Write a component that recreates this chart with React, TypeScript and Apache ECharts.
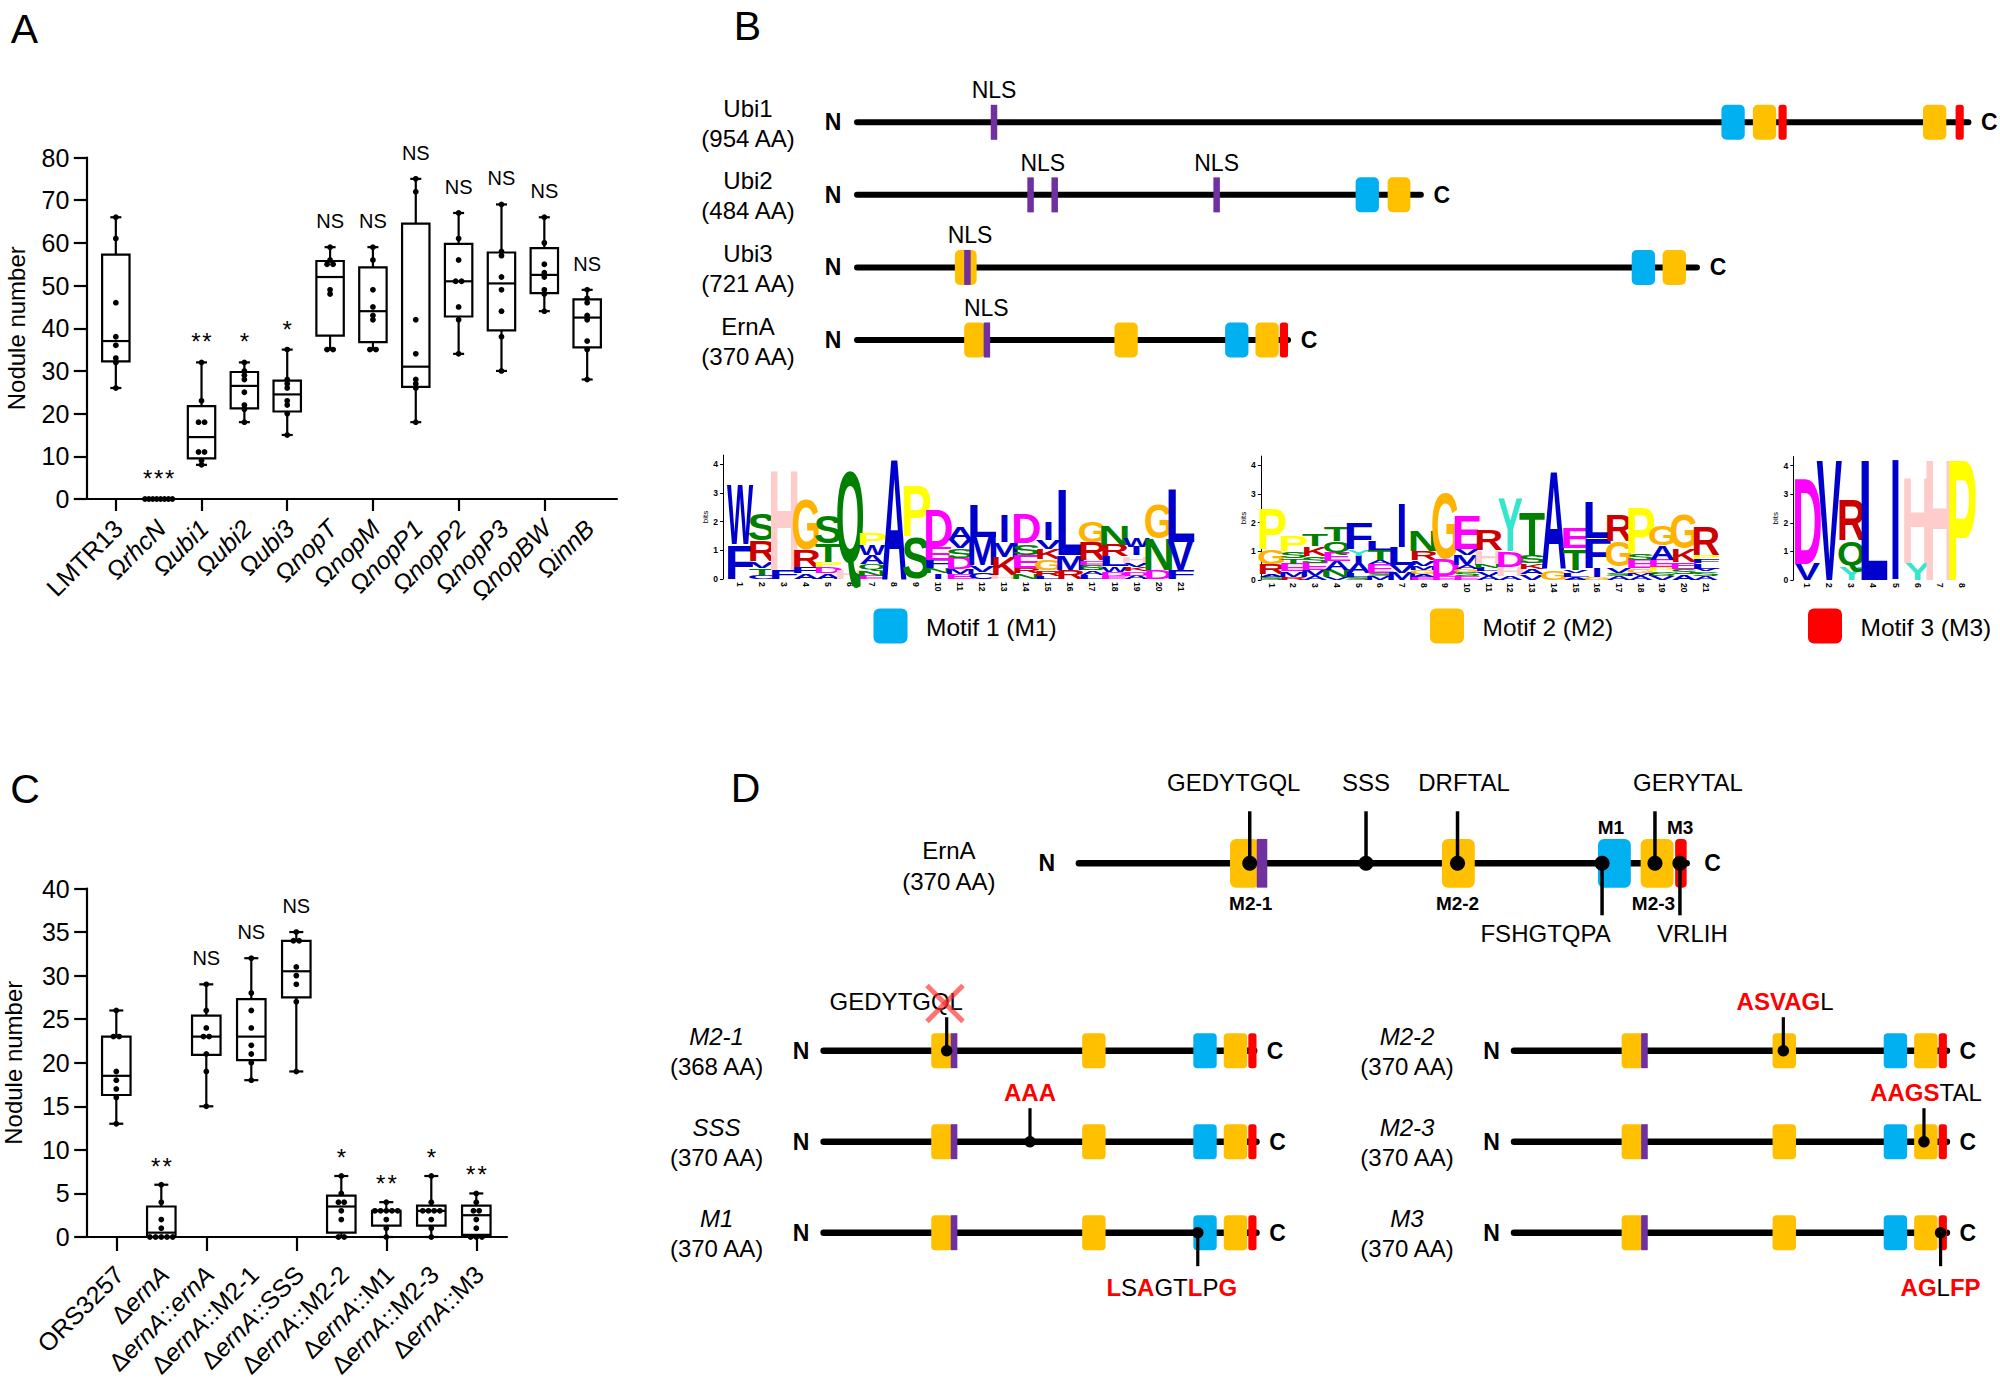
import React, { useEffect, useRef } from "react";
import * as echarts from "echarts";

const FONT = '"Liberation Sans", Arial, Helvetica, sans-serif';

// ---------------- Panel A data ----------------
const strainsA = ["LMTR13", "ΩrhcN", "Ωubi1", "Ωubi2", "Ωubi3", "ΩnopT", "ΩnopM", "ΩnopP1", "ΩnopP2", "ΩnopP3", "ΩnopBW", "ΩinnB"];
// [min, Q1, median, Q3, max]
const boxStatsA = [
  [26, 32.25, 37, 57.25, 66],
  [0, 0, 0, 0, 0],
  [8, 9.5, 14.5, 21.75, 32],
  [18, 21.25, 26.5, 29.75, 32],
  [15, 20.5, 24.5, 27.75, 35],
  [35, 38.25, 52, 55.75, 59],
  [35, 36.75, 44, 54.25, 59],
  [18, 26.25, 31, 64.5, 75],
  [34, 42.75, 51, 59.75, 67],
  [30, 39.5, 50.5, 57.75, 69],
  [44, 48.25, 52.5, 58.75, 66],
  [28, 35.5, 42.5, 46.75, 49],
];
const dotsA = [
  [66, 61, 46, 38, 36, 33, 32, 26],
  [0, 0, 0, 0, 0, 0, 0, 0],
  [32, 23, 18, 18, 11, 11, 9, 8],
  [32, 30, 29, 28, 25, 22, 21, 18],
  [35, 28, 27, 26, 23, 22, 20, 15],
  [59, 56, 55, 55, 49, 48, 35, 35],
  [59, 56, 49, 45, 43, 42, 35, 35],
  [75, 72, 42, 34, 28, 27, 26, 18],
  [67, 61, 56, 51, 51, 45, 42, 34],
  [69, 58, 57, 52, 49, 44, 38, 30],
  [66, 60, 55, 53, 52, 49, 48, 44],
  [49, 47, 46, 43, 42, 37, 35, 28],
];
const sigA = ["", "***", "**", "*", "*", "NS", "NS", "NS", "NS", "NS", "NS", "NS"];
const yRangeA = [0, 80, 10];

// ---------------- Panel C data ----------------
const strainsC = ["ORS3257", "ΔernA", "ΔernA::ernA", "ΔernA::M2-1", "ΔernA::SSS", "ΔernA::M2-2", "ΔernA::M1", "ΔernA::M2-3", "ΔernA::M3"];
const boxStatsC = [
  [13, 16.3, 18.5, 23, 26],
  [0, 0, 0.5, 3.5, 6],
  [15, 20.9, 23, 25.4, 29],
  [18, 20.3, 23, 27.3, 32],
  [19, 27.5, 30.5, 34, 35],
  [0, 0.5, 3.5, 4.75, 7],
  [0, 1.3, 3, 3, 4],
  [0, 1.3, 3, 3.6, 7],
  [0, 0.25, 2.5, 3.6, 5],
];
const dotsC = [
  [26, 23, 23, 19, 18, 17, 16, 13],
  [6, 4, 2, 1, 0, 0, 0, 0, 0],
  [29, 26, 24, 23, 23, 21, 19, 15],
  [32, 28, 26, 24, 22, 21, 20, 18],
  [35, 34, 34, 31, 30, 29, 27, 19],
  [7, 5, 4, 4, 3, 2, 0, 0],
  [4, 3, 3, 3, 3, 3, 2, 1, 0],
  [7, 4, 3, 3, 3, 3, 2, 1, 0],
  [5, 4, 3, 3, 2, 1, 0, 0, 0],
];
const sigC = ["", "**", "NS", "NS", "NS", "*", "**", "*", "**"];
const yRangeC = [0, 40, 5];

// ---------------- Panel B data ----------------
const proteinsB = ["Ubi1", "Ubi2", "Ubi3", "ErnA"];
const lengthsB = [954, 484, 721, 370];
// [protein, start, end, motif]
const motifsB = [
  [0, 742, 762, "M1"], [0, 769, 789, "M2"], [0, 791, 798, "M3"], [0, 915, 935, "M2"], [0, 943, 950, "M3"],
  [1, 428, 448, "M1"], [1, 455.5, 475, "M2"],
  [2, 84, 102.7, "M2"], [2, 665, 685, "M1"], [2, 691.5, 711.6, "M2"],
  [3, 92, 110, "M2"], [3, 221, 241, "M2"], [3, 316, 336, "M1"], [3, 342, 362, "M2"], [3, 363, 370, "M3"],
];
const nlsSitesB = [[0, 117.6], [1, 149], [1, 169.7], [1, 308.7], [2, 94.8], [3, 111.5]];
const nlsLabelsB = [[0, 117.6], [1, 159.5], [1, 308.7], [2, 97], [3, 111]];
const motifLegend = ["Motif 1 (M1)", "Motif 2 (M2)", "Motif 3 (M3)"];

// sequence logos: letters bottom -> top with heights in bits
const logo1Cols = [
  "F1.22 W2.15", "C0.14 T0.23 V0.23 R0.76 S0.93", "F0.31 H3.57", "A0.2 F0.23 R0.58 G1.8",
  "A0.2 D0.23 P0.17 T0.64 S1.0", "H0.31 Q3.57", "E0.12 N0.2 Q0.2 A0.3 W0.35 P0.4", "A4.32",
  "S1.48 P1.82", "I0.2 N0.17 F0.3 E0.45 D1.35", "E0.16 M0.18 D0.4 S0.33 V0.3 A0.47",
  "C0.25 V0.23 M1.0 L1.16", "H0.14 K0.64 M0.52 I0.98", "N0.2 R0.2 E0.44 S0.4 D1.05",
  "L0.1 R0.2 G0.4 K0.35 V0.3 I0.65", "R0.31 M0.52 L2.38", "L0.15 A0.15 S0.2 E0.15 R0.65 G0.75",
  "E0.1 D0.15 W0.2 L0.35 R0.4 N0.7", "A0.12 D0.15 K0.15 V0.15 H0.25 I0.3 W0.3",
  "D0.31 N1.1 G1.22", "F0.3 V1.0 L1.92",
];
const logo2Cols = [
  "S0.1 A0.1 R0.35 G0.52 P1.45", "R0.1 M0.2 E0.25 T0.2 S0.25 P0.55", "A0.12 M0.22 E0.25 S0.25 K0.33 T0.4",
  "V0.1 N0.25 A0.3 E0.3 Q0.42 T0.5", "S0.1 L0.15 A0.35 I0.25 Y0.23 F0.93", "M0.15 S0.1 E0.3 A0.15 T0.35 L0.3",
  "M0.25 V0.28 L0.64 I1.57", "E0.1 A0.1 G0.15 M0.15 V0.2 R0.3 N0.76", "E0.15 D0.58 G2.38",
  "E0.15 S0.12 G0.1 A0.15 M0.35 V0.23 E1.22", "A0.15 V0.15 L0.13 N0.15 H0.46 R0.76", "A0.15 H0.3 D0.55 Y1.9",
  "V0.2 A0.2 K0.2 S0.3 T1.52", "G0.35 A3.49", "A0.1 L0.15 V0.1 T0.76 E0.76", "G0.1 I0.3 F1.05 L1.28",
  "A0.15 S0.1 V0.2 G0.93 R0.93", "A0.15 M0.1 G0.15 E0.3 S0.25 P1.63", "V0.15 S0.15 P0.15 E0.25 A0.52 G0.7",
  "A0.2 S0.2 E0.24 K0.46 G1.22", "A0.15 S0.15 V0.1 L0.18 F0.15 P0.15 R1.0",
];
const logo3Cols = ["V0.58 D3.08", "V4.32", "Y0.47 Q0.93 R1.45", "L4.32", "I4.32", "Y0.58 H3.08", "H4.32", "P4.32"];
const bitsTicks = [0, 1, 2, 3, 4];

// ---------------- Panel D data ----------------
const siteLabelsD = ["GEDYTGQL", "SSS", "DRFTAL", "FSHGTQPA", "GERYTAL", "VRLIH"];
const sitePosD = [104, 174.8, 230.5, 318.5, 350.7, 365.9];
const siteSideD = [1, 1, 1, -1, 1, -1];
const motifTagsD = ["M2-1", "M2-2", "M2-3", "M1", "M3"];
const motifTagPosD = [104.6, 230.5, 349.8, 323.9, 366];
const motifTagSideD = [-1, -1, -1, 1, 1];

const mutantNames = ["M2-1", "SSS", "M1", "M2-2", "M2-3", "M3"];
const mutantLengths = [368, 370, 370, 370, 370, 370];
const mutantPinPos = [105.2, 176.4, 319.8, 230.2, 350.4, 364.6];
const mutantPinSide = [1, 1, -1, 1, 1, -1];
const mutantSeqs = ["GEDYTGQL", "AAA", "LSAGTLPG", "ASVAGL", "AAGSTAL", "AGLFP"];
const mutantRedMask = ["00000000", "111", "10100101", "111110", "1111000", "11011"];
const mutantDeleted = [true, false, false, false, false, false];

// ---------------- styles ----------------
const MOTIF_COLORS: Record<string, string> = { M1: "#00B0F0", M2: "#FFC000", M3: "#FF0000" };
const NLS_COLOR = "#7030A0";
const LOGO_COLORS: Record<string, string> = {
  A: "#0000CC", C: "#0000CC", F: "#0000CC", I: "#0000CC", L: "#0000CC", V: "#0000CC", W: "#0000CC", M: "#0000CC",
  N: "#008000", Q: "#008000", S: "#008000", T: "#008000",
  D: "#FF00FF", E: "#FF00FF", K: "#CC0000", R: "#CC0000",
  H: "#FFCCCC", G: "#FFB300", P: "#FFFF00", Y: "#33E6CC",
};
const INK: Record<string, number> = {
  A: 0.72, C: 0.64, D: 0.62, E: 0.56, F: 0.52, G: 0.68, H: 0.58, I: 0.14, K: 0.68, L: 0.52,
  M: 0.69, N: 0.58, P: 0.56, Q: 0.7, R: 0.64, S: 0.6, T: 0.6, V: 0.68, W: 0.94, Y: 0.68,
};
// vertical ink extent [bottom, top] in em (relative to baseline)
const VBOUNDS: Record<string, number[]> = { C: [-0.012, 0.728], G: [-0.012, 0.728], S: [-0.012, 0.728], Q: [-0.065, 0.728] };

// rich label: Ω/Δ and "::" upright, gene names (lower-case start) italic
function richName(name: string) {
  const parts = name.split(/(Ω|Δ|::)/).filter((p) => p.length > 0);
  return parts.map((p) => (/^[a-z]/.test(p) ? `{i|${p}}` : `{u|${p}}`)).join("");
}
const LABEL_RICH = {
  u: { fontSize: 25, fontFamily: FONT, fill: "#000" },
  i: { fontSize: 25, fontFamily: FONT, fill: "#000", fontStyle: "italic" },
};

function boxRender(stats: number[][], dots: number[][], sigs: string[], names: string[], cfg: any) {
  return (params: any, api: any) => {
    const i = params.dataIndex;
    const s = stats[i];
    const x = api.coord([i, 0])[0];
    const Y = (v: number) => api.coord([i, v])[1];
    const st = { stroke: "#000", lineWidth: 2.2 };
    const hb = cfg.boxW / 2;
    const hc = cfg.capW / 2;
    const ch: any[] = [];
    ch.push({ type: "line", shape: { x1: x, y1: Y(s[0]), x2: x, y2: Y(s[1]) }, style: st });
    ch.push({ type: "line", shape: { x1: x, y1: Y(s[3]), x2: x, y2: Y(s[4]) }, style: st });
    ch.push({ type: "line", shape: { x1: x - hc, y1: Y(s[0]), x2: x + hc, y2: Y(s[0]) }, style: st });
    ch.push({ type: "line", shape: { x1: x - hc, y1: Y(s[4]), x2: x + hc, y2: Y(s[4]) }, style: st });
    ch.push({
      type: "rect",
      shape: { x: x - hb, y: Y(s[3]), width: 2 * hb, height: Math.max(0, Y(s[1]) - Y(s[3])) },
      style: { stroke: "#000", lineWidth: 2.2, fill: "rgba(255,255,255,0)" },
    });
    ch.push({ type: "line", shape: { x1: x - hb, y1: Y(s[2]), x2: x + hb, y2: Y(s[2]) }, style: st });
    const groups = new Map<number, number>();
    dots[i].forEach((v) => groups.set(v, (groups.get(v) || 0) + 1));
    groups.forEach((n, v) => {
      const sp = n > 1 ? Math.min(cfg.dotGap, cfg.boxW / (n - 1)) : 0;
      for (let k = 0; k < n; k++) {
        ch.push({ type: "circle", shape: { cx: x + (k - (n - 1) / 2) * sp, cy: Y(v), r: cfg.dotR }, style: { fill: "#000" } });
      }
    });
    const sg = sigs[i];
    if (sg) {
      const star = sg[0] === "*";
      if (star) {
        const n = sg.length;
        for (let k = 0; k < n; k++) {
          ch.push({
            type: "text", x: x + (k - (n - 1) / 2) * cfg.starGap, y: Y(s[4]) - cfg.starOff,
            style: { text: "*", fontSize: cfg.starSize, fontFamily: FONT, fill: "#000", align: "center", verticalAlign: "middle" },
          });
        }
      } else {
        ch.push({
          type: "text", x, y: Y(s[4]) - cfg.nsOff,
          style: { text: sg, fontSize: cfg.nsSize, fontFamily: FONT, fill: "#000", align: "center", verticalAlign: "middle" },
        });
      }
    }
    // rotated category label
    ch.push({
      type: "text", x: x + cfg.labelDx, y: Y(0) + cfg.labelDy, rotation: Math.PI / 4,
      style: { text: richName(names[i]), rich: LABEL_RICH, fontSize: 25, fontFamily: FONT, fill: "#000", align: "right", verticalAlign: "middle" },
    });
    return { type: "group", children: ch };
  };
}

function seqRich(seq: string, mask: string) {
  let out = "";
  let i = 0;
  while (i < seq.length) {
    let j = i;
    while (j < seq.length && mask[j] === mask[i]) j++;
    out += `{${mask[i] === "1" ? "r" : "k"}|${seq.slice(i, j)}}`;
    i = j;
  }
  return out;
}

function diagramRender(rows: any[], L: any) {
  return (params: any, api: any) => {
    const r = params.dataIndex;
    const row = rows[r];
    const y = api.coord([0, r])[1];
    const P = (aa: number) => api.coord([aa, r])[0];
    const ch: any[] = [];
    const x0 = P(0);
    const x1 = P(row.len);
    const txt = (text: string, x: number, yy: number, extra: any = {}) => ({
      type: "text", x, y: yy,
      style: Object.assign({ text, fontSize: 24, fontFamily: FONT, fill: "#000", align: "center", verticalAlign: "middle" }, extra),
    });
    ch.push({ type: "line", shape: { x1: x0, y1: y, x2: x1, y2: y }, style: { stroke: "#000", lineWidth: L.lineW, lineCap: "round" } });
    row.domains.forEach((d: any) => {
      const xs = P(d[0]);
      const w = P(d[1]) - xs;
      ch.push({
        type: "rect",
        shape: { x: xs, y: y - L.boxH / 2, width: w, height: L.boxH, r: Math.min(L.radius, w / 3) },
        style: { fill: MOTIF_COLORS[d[2]] },
      });
    });
    row.nls.forEach((p: number) => {
      ch.push({ type: "rect", shape: { x: P(p) - L.nlsW / 2, y: y - L.boxH / 2, width: L.nlsW, height: L.boxH }, style: { fill: NLS_COLOR } });
    });
    (row.nlsLabels || []).forEach((p: number) => ch.push(txt("NLS", P(p), y - 32, { fontSize: 23 })));
    (row.pins || []).forEach((pin: any) => {
      const px = P(pin.pos);
      ch.push({ type: "line", shape: { x1: px, y1: y, x2: px, y2: y - pin.dir * L.pinLen }, style: { stroke: "#000", lineWidth: L.pinW } });
      ch.push({ type: "circle", shape: { cx: px, cy: y, r: L.dotR }, style: { fill: "#000" } });
      const ty = y - pin.dir * (pin.dir > 0 ? L.textUp : L.textDown);
      if (pin.mask) {
        ch.push({
          type: "text", x: px + pin.dx, y: ty,
          style: {
            text: seqRich(pin.text, pin.mask), align: "center", verticalAlign: "middle", fontFamily: FONT, fontSize: 24,
            rich: {
              r: { fill: "#FF0000", fontWeight: "bold", fontSize: 24, fontFamily: FONT },
              k: { fill: "#000", fontSize: 24, fontFamily: FONT },
            },
          },
        });
      } else {
        ch.push(txt(pin.text, px + pin.dx, ty));
      }
      if (pin.deleted) {
        const cx = px - 1.7;
        const cy = ty + 1.7;
        const h = 18;
        const xs = { stroke: "rgba(255,40,40,0.65)", lineWidth: 5 };
        ch.push({ type: "line", shape: { x1: cx - h, y1: cy - h, x2: cx + h, y2: cy + h }, style: xs });
        ch.push({ type: "line", shape: { x1: cx + h, y1: cy - h, x2: cx - h, y2: cy + h }, style: xs });
      }
    });
    (row.tags || []).forEach((t: any) => {
      ch.push(txt(t.text, P(t.pos), y - t.dir * (t.dir > 0 ? L.tagUp : L.tagDown), { fontSize: 19, fontWeight: "bold" }));
    });
    ch.push(txt("N", x0 - L.nDx, y, { fontWeight: "bold", fontSize: 23 }));
    ch.push(txt("C", x1 + L.cDx, y, { fontWeight: "bold", fontSize: 23 }));
    ch.push(txt(row.name, x0 - L.nameDx, y + L.nameDy, { fontStyle: row.italic ? "italic" : "normal" }));
    ch.push(txt(`(${row.aaLen} AA)`, x0 - L.nameDx, y + L.aaDy));
    return { type: "group", children: ch };
  };
}

function logoItems(cols: string[]) {
  const items: any[] = [];
  cols.forEach((c, ci) => {
    let acc = 0;
    c.trim().split(/\s+/).forEach((tok) => {
      const letter = tok[0];
      const h = parseFloat(tok.slice(1));
      items.push({ col: ci, y0: acc, y1: acc + h, letter });
      acc += h;
    });
  });
  return items;
}

function logoRender(items: any[]) {
  return (params: any, api: any) => {
    const it = items[params.dataIndex];
    const p0 = api.coord([it.col, it.y0]);
    const p1 = api.coord([it.col, it.y1]);
    const h = p0[1] - p1[1];
    const colW = api.size([1, 0])[0];
    const target = it.letter === "I" ? colW * 0.26 : colW * 1.18;
    const F = 100;
    const vb = VBOUNDS[it.letter] || [0, 0.716];
    const sx = target / (INK[it.letter] * F);
    const sy = h / ((vb[1] - vb[0]) * F);
    const yc = (p0[1] + p1[1]) / 2;
    return {
      type: "text",
      x: p0[0],
      y: yc - sy * F * (0.3465 - (vb[0] + vb[1]) / 2),
      scaleX: sx,
      scaleY: sy,
      style: { text: it.letter, fontSize: F, fontWeight: "bold", fontFamily: FONT, fill: LOGO_COLORS[it.letter], align: "center", verticalAlign: "middle" },
    };
  };
}

export default function App() {
  const ref = useRef<HTMLDivElement>(null);
  useEffect(() => {
    if (!ref.current) return;
    const chart = echarts.init(ref.current, undefined, { renderer: "svg" });

    const rowsB = proteinsB.map((name, r) => ({
      name, aaLen: lengthsB[r], len: lengthsB[r], italic: false,
      domains: motifsB.filter((m) => m[0] === r).map((m) => [m[1], m[2], m[3]]),
      nls: nlsSitesB.filter((n) => n[0] === r).map((n) => n[1]),
      nlsLabels: nlsLabelsB.filter((n) => n[0] === r).map((n) => n[1]),
    }));
    const ernaDomains = motifsB.filter((m) => m[0] === 3).map((m) => [m[1], m[2], m[3]]);
    const ernaNls = nlsSitesB.filter((n) => n[0] === 3).map((n) => n[1]);
    const siteDx = [-16, 0, 6.5, -56.5, 33, 12.5];
    const rowsDtop = [{
      name: "ErnA", aaLen: 370, len: 370, italic: false, domains: ernaDomains, nls: ernaNls,
      pins: siteLabelsD.map((t, k) => ({ pos: sitePosD[k], dir: siteSideD[k], text: t, dx: siteDx[k] })),
      tags: motifTagsD.map((t, k) => ({ text: t, pos: motifTagPosD[k], dir: motifTagSideD[k] })),
    }];
    const mutDx = [-50.4, 0, -26, 1.7, 2, 0];
    const mutRows = mutantNames.map((name, k) => ({
      name, aaLen: mutantLengths[k], len: mutantLengths[k], italic: true, domains: ernaDomains, nls: ernaNls,
      pins: [{ pos: mutantPinPos[k], dir: mutantPinSide[k], text: mutantSeqs[k], mask: mutantRedMask[k], dx: mutDx[k], deleted: mutantDeleted[k] }],
    }));
    const rowsDleft = mutRows.slice(0, 3);
    const rowsDright = mutRows.slice(3);

    const items1 = logoItems(logo1Cols);
    const items2 = logoItems(logo2Cols);
    const items3 = logoItems(logo3Cols);

    const frameX = (g: number) => ({
      gridIndex: g, type: "value", min: 0, max: 1,
      axisLine: { show: true, onZero: false, lineStyle: { color: "#000", width: 2.2 } },
      axisTick: { show: false }, axisLabel: { show: false }, splitLine: { show: false },
    });
    const frameY = (g: number, rng: number[], gap: number) => ({
      gridIndex: g, type: "value", min: rng[0], max: rng[1], interval: rng[2],
      axisLine: { show: true, lineStyle: { color: "#000", width: 2.2 } },
      axisTick: { show: true, length: 12.5, lineStyle: { color: "#000", width: 2.2 } },
      axisLabel: { fontSize: 25, color: "#000", margin: 17, fontFamily: FONT },
      splitLine: { show: false },
      name: "Nodule number", nameLocation: "middle", nameGap: gap,
      nameTextStyle: { fontSize: 24, color: "#000", fontFamily: FONT },
    });
    const dataX = (g: number, cats: string[], tickLen: number) => ({
      gridIndex: g, type: "category", data: cats,
      axisLine: { show: false },
      axisTick: { show: true, alignWithLabel: true, length: tickLen, lineStyle: { color: "#000", width: 2.2 } },
      axisLabel: { show: false },
    });
    const hiddenY = (g: number, rng: number[], inverse = false) => ({ gridIndex: g, type: "value", min: rng[0], max: rng[1], show: false, inverse });
    const hiddenX = (g: number, max: number) => ({ gridIndex: g, type: "value", min: 0, max, show: false });
    const logoX = (g: number, n: number) => ({
      gridIndex: g, type: "category", data: Array.from({ length: n }, (_, k) => String(k + 1)),
      axisLine: { show: false }, axisTick: { show: false },
      axisLabel: { rotate: -90, margin: 3, interval: 0, fontSize: 8.5, fontWeight: "bold", color: "#000", fontFamily: FONT },
    });
    const logoY = (g: number, off: number) => ({
      gridIndex: g, type: "value", min: 0, max: 4.32, interval: 1, offset: off,
      axisLine: { show: true, lineStyle: { color: "#000", width: 1 } },
      axisTick: { show: true, length: 3, customValues: bitsTicks, lineStyle: { color: "#000", width: 1 } },
      axisLabel: {
        fontSize: 8.5, fontWeight: "bold", color: "#000", margin: 5, fontFamily: FONT, customValues: bitsTicks,
        formatter: (v: number) => (Number.isInteger(v) ? String(v) : ""),
      },
      splitLine: { show: false },
      name: "bits", nameLocation: "middle", nameGap: 11,
      nameTextStyle: { fontSize: 8, color: "#000", fontFamily: FONT },
    });

    const boxCfgA = { boxW: 27.4, capW: 11, dotR: 2.9, dotGap: 6, starOff: 20.5, starGap: 11, nsOff: 26, starSize: 24, nsSize: 20, labelDx: 2.5, labelDy: 25 };
    const boxCfgC = { boxW: 28.5, capW: 14, dotR: 2.9, dotGap: 5.7, starOff: 18.5, starGap: 11.5, nsOff: 26.5, starSize: 24, nsSize: 20, labelDx: 3, labelDy: 33 };

    const LB = { lineW: 6, boxH: 35, radius: 5, nlsW: 6.5, nDx: 24, cDx: 21, nameDx: 109, nameDy: -14, aaDy: 16, pinLen: 0, pinW: 3, dotR: 6, textUp: 0, textDown: 0, tagUp: 0, tagDown: 0 };
    const LDt = { lineW: 6.5, boxH: 48.7, radius: 6, nlsW: 10.5, nDx: 32, cDx: 26, nameDx: 130, nameDy: -12.5, aaDy: 18, pinLen: 52, pinW: 3.5, dotR: 7.5, textUp: 80.6, textDown: 70, tagUp: 36.3, tagDown: 40 };
    const LDb = { lineW: 6.5, boxH: 35, radius: 4, nlsW: 6.6, nDx: 22.5, cDx: 21, nameDx: 107, nameDy: -14, aaDy: 16, pinLen: 33.5, pinW: 3.2, dotR: 5.75, textUp: 49, textDown: 55, tagUp: 0, tagDown: 0 };

    const legendX = [873.5, 1430, 1808];
    const legendKeys = ["M1", "M2", "M3"];
    const graphic: any[] = [
      ...["A", "B", "C", "D"].map((t, k) => ({
        type: "text", x: [24.5, 747.5, 25, 745.5][k], y: [29, 26, 789, 788][k],
        style: { text: t, fontSize: 41, fontFamily: FONT, fill: "#000", align: "center", verticalAlign: "middle" },
      })),
      ...legendKeys.map((k, i) => ({ type: "rect", shape: { x: legendX[i], y: 608.5, width: 34, height: 35, r: 6 }, style: { fill: MOTIF_COLORS[k] } })),
      ...motifLegend.map((t, i) => ({
        type: "text", x: legendX[i] + 52.5, y: 627,
        style: { text: t, fontSize: 24.5, fontFamily: FONT, fill: "#000", align: "left", verticalAlign: "middle" },
      })),
    ];

    const option: any = {
      animation: false,
      backgroundColor: "#fff",
      textStyle: { fontFamily: FONT },
      graphic,
      grid: [
        { left: 86.3, top: 157.5, width: 530.7, height: 341.5 },
        { left: 94.4, top: 157.5, width: 514.2, height: 341.5 },
        { left: 86.7, top: 888.5, width: 420.3, height: 348.5 },
        { left: 93.8, top: 888.5, width: 405, height: 348.5 },
        { left: 857, top: 122.3, width: 954 * 1.165, height: 217.7 },
        { left: 729, top: 455.1, width: 462.6, height: 123.9 },
        { left: 1260.85, top: 456.1, width: 455.7, height: 123.9 },
        { left: 1796.3, top: 456.5, width: 176.4, height: 123.5 },
        { left: 1078.9, top: 813.3, width: 370 * 1.6426, height: 100 },
        { left: 823.6, top: 1050.7, width: 370 * 1.17, height: 182 },
        { left: 1514, top: 1050.7, width: 370 * 1.17, height: 182 },
      ],
      xAxis: [
        frameX(0), dataX(1, strainsA, 12), frameX(2), dataX(3, strainsC, 14),
        hiddenX(4, 954), logoX(5, 21), logoX(6, 21), logoX(7, 8),
        hiddenX(8, 370), hiddenX(9, 370), hiddenX(10, 370),
      ],
      yAxis: [
        frameY(0, yRangeA, 58), hiddenY(1, yRangeA), frameY(2, yRangeC, 61), hiddenY(3, yRangeC),
        hiddenY(4, [0, 3], true), logoY(5, 6), logoY(6, 0), logoY(7, 3),
        hiddenY(8, [-1, 1], true), hiddenY(9, [0, 2], true), hiddenY(10, [0, 2], true),
      ],
      series: [
        { type: "custom", xAxisIndex: 1, yAxisIndex: 1, clip: false, data: boxStatsA.map((s, i) => [i, s[0], s[4]]), encode: { x: 0, y: [1, 2] }, renderItem: boxRender(boxStatsA, dotsA, sigA, strainsA, boxCfgA) },
        { type: "custom", xAxisIndex: 3, yAxisIndex: 3, clip: false, data: boxStatsC.map((s, i) => [i, s[0], s[4]]), encode: { x: 0, y: [1, 2] }, renderItem: boxRender(boxStatsC, dotsC, sigC, strainsC, boxCfgC) },
        { type: "custom", xAxisIndex: 4, yAxisIndex: 4, clip: false, data: rowsB.map((_, r) => [0, r]), renderItem: diagramRender(rowsB, LB) },
        { type: "custom", xAxisIndex: 5, yAxisIndex: 5, clip: false, data: items1.map((it) => [it.col, it.y0, it.y1]), encode: { x: 0, y: [1, 2] }, renderItem: logoRender(items1) },
        { type: "custom", xAxisIndex: 6, yAxisIndex: 6, clip: false, data: items2.map((it) => [it.col, it.y0, it.y1]), encode: { x: 0, y: [1, 2] }, renderItem: logoRender(items2) },
        { type: "custom", xAxisIndex: 7, yAxisIndex: 7, clip: false, data: items3.map((it) => [it.col, it.y0, it.y1]), encode: { x: 0, y: [1, 2] }, renderItem: logoRender(items3) },
        { type: "custom", xAxisIndex: 8, yAxisIndex: 8, clip: false, data: rowsDtop.map((_, r) => [0, r]), renderItem: diagramRender(rowsDtop, LDt) },
        { type: "custom", xAxisIndex: 9, yAxisIndex: 9, clip: false, data: rowsDleft.map((_, r) => [0, r]), renderItem: diagramRender(rowsDleft, LDb) },
        { type: "custom", xAxisIndex: 10, yAxisIndex: 10, clip: false, data: rowsDright.map((_, r) => [0, r]), renderItem: diagramRender(rowsDright, LDb) },
      ],
    };
    chart.setOption(option);
    return () => chart.dispose();
  }, []);
  return (
    <div
      ref={ref}
      style={{ position: "fixed", left: 0, top: 0, width: 2000, height: 1386, background: "#fff" }}
    />
  );
}
